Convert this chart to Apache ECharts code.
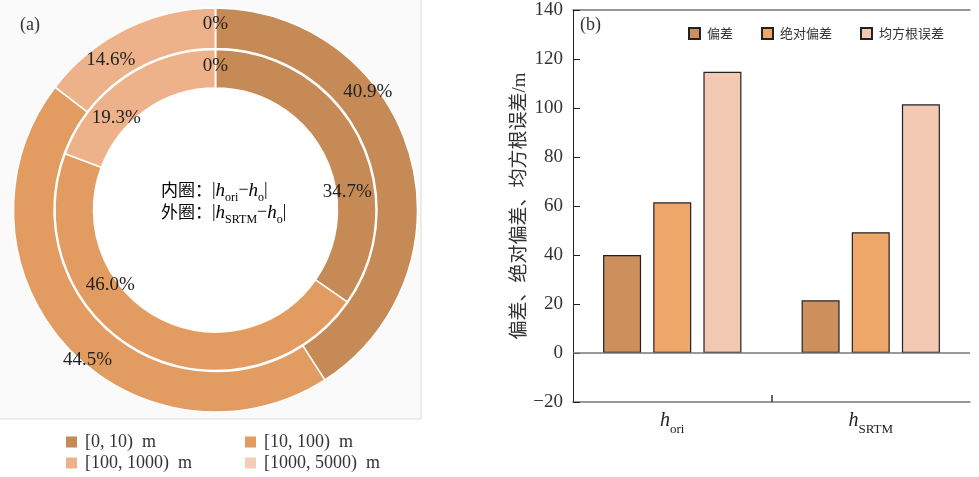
<!DOCTYPE html>
<html><head><meta charset="utf-8">
<script src="https://cdn.jsdelivr.net/npm/echarts@6/dist/echarts.min.js"></script>
<style>html,body{margin:0;padding:0;background:#fff}#c{width:979px;height:477px}</style>
</head><body><div id="c"></div>
<script>
// ---------- data ----------
const rangeNames = ['[0, 10)  m', '[10, 100)  m', '[100, 1000)  m', '[1000, 5000)  m'];
const outerSRTM = [40.9, 44.5, 14.6, 0];   // 外圈 |h_SRTM - h_o|
const innerOri = [34.7, 46.0, 19.3, 0];    // 内圈 |h_ori - h_o|
const barCategories = ['ori', 'SRTM'];
const barSeriesNames = ['偏差', '绝对偏差', '均方根误差'];
const biasValues = [40.0, 21.5];
const absBiasValues = [61.5, 49.3];
const rmseValues = [114.8, 101.5];
const yMin = -20, yMax = 140, yStep = 20;

// ---------- styles ----------
const rangeColors = ['#C68A56', '#E29C62', '#EEB28B', '#F3CEB9'];
const barColors = ['#CD8F5B', '#EFA669', '#F3C9B3'];
const outerLabelShift = [[-25, -66], [8, 25], [-23, 16], [0, -1.5]];
const innerLabelShift = [[4, 49], [-38, -53], [-17, 27], [0, 0.5]];
const serif = "'Liberation Serif', 'Noto Sans CJK SC'";
const cjk = "'Noto Sans CJK SC'";
const pieCenter = [215.5, 210];

function pieData(vals) {
  return vals.map((v, i) => ({ name: rangeNames[i], value: v, itemStyle: { color: rangeColors[i] } }));
}
function pctLabel(p) { return p.value === 0 ? '0%' : p.value.toFixed(1) + '%'; }

function pieSeries(vals, radius, shifts) {
  return {
    type: 'pie', center: pieCenter, radius: radius, startAngle: 90, clockwise: true,
    silent: true, animation: false, avoidLabelOverlap: false, minShowLabelAngle: 0,
    itemStyle: { borderColor: '#ffffff', borderWidth: 1.5 },
    label: { show: true, position: 'inside', formatter: pctLabel, fontFamily: serif, fontSize: 19, color: '#222' },
    labelLine: { show: false },
    labelLayout: function (p) { const s = shifts[p.dataIndex]; return { dx: s[0], dy: s[1] }; },
    emphasis: { disabled: true },
    data: pieData(vals)
  };
}

const subRich = {
  h: { fontFamily: serif, fontStyle: 'italic', fontSize: 20, lineHeight: 20, verticalAlign: 'top', color: '#222' },
  s: { fontFamily: serif, fontSize: 13, lineHeight: 13, padding: [12, 0, 0, 0], verticalAlign: 'top', color: '#222' }
};
const centerRich = {
  c: { fontFamily: cjk, fontSize: 17, lineHeight: 20, verticalAlign: 'top', color: '#222' },
  v: { fontFamily: serif, fontSize: 18, lineHeight: 20, verticalAlign: 'top', color: '#222' },
  h: { fontFamily: serif, fontStyle: 'italic', fontSize: 19, lineHeight: 20, verticalAlign: 'top', color: '#222' },
  s: { fontFamily: serif, fontSize: 12, lineHeight: 12, padding: [11, 0, 0, 0], verticalAlign: 'top', color: '#222' }
};

function barSeries(name, vals, color, withZero) {
  const s = {
    name: name, type: 'bar', xAxisIndex: 0, yAxisIndex: 0, data: vals,
    barWidth: 38, barGap: '32%', silent: true, animation: false,
    itemStyle: { color: color, borderColor: '#222', borderWidth: 1.2 }
  };
  if (withZero) {
    s.markLine = { silent: true, symbol: 'none', label: { show: false },
      lineStyle: { color: '#777', width: 1.5, type: 'solid' }, data: [{ yAxis: 0 }] };
  }
  return s;
}

const chart = echarts.init(document.getElementById('c'), null, { renderer: 'canvas' });
chart.setOption({
  animation: false,
  backgroundColor: '#ffffff',
  graphic: [
    { type: 'rect', z: -10, shape: { x: 0, y: 0, width: 421, height: 419 }, style: { fill: '#fafafa' } },
    { type: 'line', z: -9, shape: { x1: 421, y1: 0, x2: 421, y2: 419 }, style: { stroke: '#dcdcdc', lineWidth: 1 } },
    { type: 'line', z: -9, shape: { x1: 0, y1: 419, x2: 421, y2: 419 }, style: { stroke: '#dcdcdc', lineWidth: 1 } },
    { type: 'circle', z: -8, shape: { cx: pieCenter[0], cy: pieCenter[1], r: 122 }, style: { fill: '#ffffff' } },
    { type: 'text', z: 10, x: 20, y: 25, style: { text: '(a)', font: "18px 'Liberation Serif'", fill: '#333', verticalAlign: 'middle' } },
    { type: 'text', z: 10, x: 580, y: 25, style: { text: '(b)', font: "18px 'Liberation Serif'", fill: '#333', verticalAlign: 'middle' } },
    { type: 'text', z: 10, x: 161, y: 181, style: { text: '{c|内圈：}{v||}{h|h}{s|ori}{v|−}{h|h}{s|o}{v||}', rich: centerRich, verticalAlign: 'top' } },
    { type: 'text', z: 10, x: 161, y: 203, style: { text: '{c|外圈：}{v||}{h|h}{s|SRTM}{v|−}{h|h}{s|o}{v||}', rich: centerRich, verticalAlign: 'top' } }
  ],
  legend: [
    {
      data: rangeNames, left: 66, top: 431.5, width: 360, orient: 'horizontal', padding: 0,
      itemWidth: 11, itemHeight: 11, itemGap: 0, icon: 'rect', selectedMode: false,
      itemStyle: { borderWidth: 0 },
      textStyle: { fontFamily: serif, fontSize: 18, color: '#333', width: 160, lineHeight: 21, overflow: 'none', padding: [0, 0, 0, 3] }
    },
    {
      data: barSeriesNames, left: 688, top: 27, padding: 0,
      itemWidth: 11, itemHeight: 11, itemGap: 28, icon: 'rect', selectedMode: false,
      textStyle: { fontFamily: cjk, fontSize: 13, color: '#333', padding: [0, 0, 0, 2] }
    }
  ],
  grid: { left: 573, top: 10, width: 397, height: 392, containLabel: false },
  xAxis: [
    {
      type: 'category', data: barCategories, position: 'bottom',
      axisLine: { onZero: false, lineStyle: { color: '#777', width: 1.5 } },
      axisTick: { show: false },
      axisLabel: { margin: 9, formatter: v => '{h|h}{s|' + v + '}', rich: subRich },
      splitLine: { show: false }
    },
    {
      type: 'category', data: ['', '', ''], boundaryGap: false, position: 'bottom',
      axisLine: { show: false, onZero: false }, axisLabel: { show: false }, splitLine: { show: false },
      axisTick: { show: true, inside: true, length: 7, interval: (i) => i === 1, lineStyle: { color: '#333', width: 1.5 } }
    },
    {
      type: 'category', data: [''], position: 'top',
      axisLine: { show: true, onZero: false, lineStyle: { color: '#777', width: 1.5 } },
      axisTick: { show: false }, axisLabel: { show: false }, splitLine: { show: false }
    }
  ],
  yAxis: {
    type: 'value', min: yMin, max: yMax, interval: yStep,
    name: '偏差、绝对偏差、均方根误差/m', nameLocation: 'middle', nameGap: 43,
    nameTextStyle: { fontFamily: serif, fontSize: 19, color: '#333' },
    axisLine: { show: true, lineStyle: { color: '#222', width: 1 } },
    axisTick: { show: true, inside: true, length: 7, lineStyle: { color: '#222', width: 1 } },
    axisLabel: { margin: 10, fontFamily: serif, fontSize: 19, color: '#333', formatter: v => v < 0 ? '−' + Math.abs(v) : String(v) },
    splitLine: { show: false }
  },
  series: [
    pieSeries(outerSRTM, [161.5, 202], outerLabelShift),
    pieSeries(innerOri, [122, 160.5], innerLabelShift),
    barSeries(barSeriesNames[0], biasValues, barColors[0], true),
    barSeries(barSeriesNames[1], absBiasValues, barColors[1], false),
    barSeries(barSeriesNames[2], rmseValues, barColors[2], false)
  ]
});
</script>
</body></html>
